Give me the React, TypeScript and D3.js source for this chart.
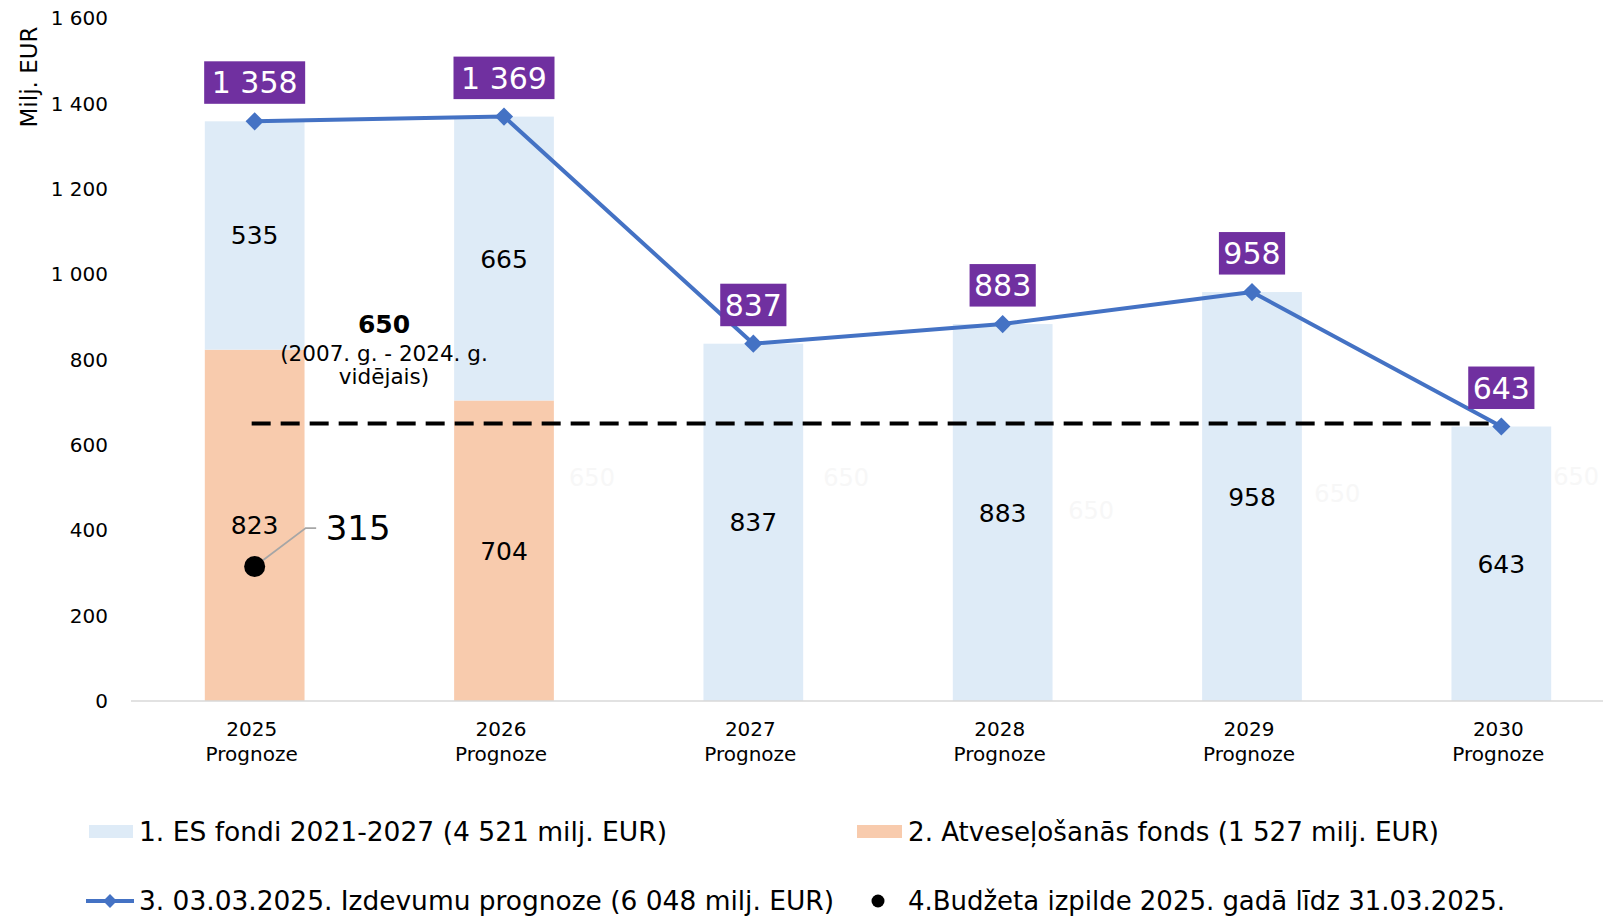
import React from "react";
import * as d3 from "d3";

const years = ["2025", "2026", "2027", "2028", "2029", "2030"];
const catSub = "Prognoze";
const esFondi = [535, 665, 837, 883, 958, 643];
const atvesel = [823, 704, 0, 0, 0, 0];
const prognoze = [1358, 1369, 837, 883, 958, 643];
const esLabels = ["535", "665", "837", "883", "958", "643"];
const atvLabels = ["823", "704", "", "", "", ""];
const progLabels = ["1 358", "1 369", "837", "883", "958", "643"];
const avgValue = 650;
const budzetaValue = 315;
const yTicks = [0, 200, 400, 600, 800, 1000, 1200, 1400, 1600];
const tickLabels = ["0", "200", "400", "600", "800", "1 000", "1 200", "1 400", "1 600"];
const legendItems = [
  "1. ES fondi 2021-2027 (4 521 milj. EUR)",
  "2. Atveseļošanās fonds (1 527 milj. EUR)",
  "3. 03.03.2025. Izdevumu prognoze (6 048 milj. EUR)",
  "4.Budžeta izpilde 2025. gadā līdz 31.03.2025.",
];
// faint (almost white) data labels of the 650 reference line
const ghostX = [2.353, 3.372, 4.355, 5.342, 6.3];
const ghostV = [525, 525, 447, 487, 527];

const W = 1603;
const H = 916;
const FONT = "'DejaVu Sans', Verdana, sans-serif";
const FONT_C = "'DejaVu Sans Condensed', 'DejaVu Sans', sans-serif";

const BLUE_BAR = "#DEEBF7";
const ORANGE_BAR = "#F8CBAD";
const LINE = "#4472C4";
const PURPLE = "#7030A0";

export default function App() {
  React.useEffect(() => {
    document.body.style.margin = "0";
  }, []);

  const x = d3
    .scaleBand<string>()
    .domain(years)
    .range([130, 1626])
    .paddingInner(0.6)
    .paddingOuter(0.3);
  const y = d3.scaleLinear().domain([0, 1600]).range([701, 18]);
  const cx = (i: number) => (x(years[i]) as number) + x.bandwidth() / 2;
  const step = x.step();
  const xFrac = (f: number) => cx(0) + (f - 1) * step;

  const linePath = d3
    .line<number>()
    .x((_, i) => cx(i))
    .y((d) => y(d))(prognoze) as string;

  const diamond = d3.symbol().type(d3.symbolSquare).size(165)() as string;
  const diamondSmall = d3.symbol().type(d3.symbolSquare).size(95)() as string;

  const dotX = cx(0);
  const dotY = y(budzetaValue);

  return (
    <svg
      width={W}
      height={H}
      style={{ position: "absolute", left: 0, top: 0, background: "#fff" }}
      fontFamily={FONT}
    >
      <rect x={0} y={0} width={W} height={H} fill="#fff" />
      {/* y axis title */}
      <text
        transform={`translate(37,77) rotate(-90)`}
        textAnchor="middle"
        fontSize={23}
        fill="#000"
      >
        Milj. EUR
      </text>
      {/* y tick labels */}
      {yTicks.map((t, i) => (
        <text
          key={t}
          x={108}
          y={y(t)}
          dy="0.36em"
          textAnchor="end"
          fontSize={20}
          fill="#000"
        >
          {tickLabels[i]}
        </text>
      ))}
      {/* bars */}
      {years.map((yr, i) => {
        const bx = x(yr) as number;
        const bw = x.bandwidth();
        return (
          <g key={yr}>
            {atvesel[i] > 0 && (
              <rect
                x={bx}
                y={y(atvesel[i])}
                width={bw}
                height={y(0) - y(atvesel[i])}
                fill={ORANGE_BAR}
              />
            )}
            <rect
              x={bx}
              y={y(atvesel[i] + esFondi[i])}
              width={bw}
              height={y(atvesel[i]) - y(atvesel[i] + esFondi[i])}
              fill={BLUE_BAR}
            />
          </g>
        );
      })}
      {/* x axis line */}
      <line x1={131} x2={W} y1={y(0)} y2={y(0)} stroke="#d9d9d9" strokeWidth={1.5} />
      {/* category labels */}
      {years.map((yr, i) => (
        <g key={yr} fontSize={20} fill="#000" textAnchor="middle">
          <text x={cx(i) - 3} y={736}>
            {yr}
          </text>
          <text x={cx(i) - 3} y={761}>
            {catSub}
          </text>
        </g>
      ))}
      {/* ghost labels */}
      {ghostX.map((f, i) => (
        <text
          key={i}
          x={xFrac(f)}
          y={y(ghostV[i])}
          dy="0.36em"
          textAnchor="middle"
          fontSize={24}
          fill="#f7f7f7"
        >
          {String(avgValue)}
        </text>
      ))}
      {/* bar labels */}
      {years.map((yr, i) => (
        <g key={yr} fontSize={25} fill="#000" textAnchor="middle">
          <text x={cx(i)} y={y(atvesel[i] + esFondi[i] / 2)} dy="0.36em">
            {esLabels[i]}
          </text>
          {atvesel[i] > 0 && (
            <text x={cx(i)} y={y(atvesel[i] / 2)} dy="0.36em">
              {atvLabels[i]}
            </text>
          )}
        </g>
      ))}
      {/* average dashed line */}
      <line
        x1={cx(0) - 3}
        x2={cx(5)}
        y1={y(avgValue)}
        y2={y(avgValue)}
        stroke="#000"
        strokeWidth={4}
        strokeDasharray="19 10"
      />
      {/* average annotation */}
      <g textAnchor="middle" fill="#000">
        <text x={384} y={333} fontSize={25} fontWeight="bold">
          {String(avgValue)}
        </text>
        <text x={384} y={361} fontSize={21.5}>
          (2007. g. - 2024. g.
        </text>
        <text x={384} y={384} fontSize={21.5}>
          vidējais)
        </text>
      </g>
      {/* forecast line */}
      <path d={linePath} fill="none" stroke={LINE} strokeWidth={4} strokeLinejoin="round" />
      {prognoze.map((v, i) => (
        <path
          key={i}
          d={diamond}
          transform={`translate(${cx(i)},${y(v)}) rotate(45)`}
          fill={LINE}
        />
      ))}
      {/* purple labels */}
      {prognoze.map((v, i) => {
        const lbl = progLabels[i];
        const tw = lbl.length * 0.58 * 30;
        const bw = tw + 14;
        const bottom = y(v) - 17.5;
        const bh = 42.5;
        return (
          <g key={i}>
            <rect x={cx(i) - bw / 2} y={bottom - bh} width={bw} height={bh} fill={PURPLE} />
            <text
              x={cx(i)}
              y={bottom - bh / 2}
              dy="0.36em"
              textAnchor="middle"
              fontSize={30}
              fill="#fff"
            >
              {lbl}
            </text>
          </g>
        );
      })}
      {/* budget execution point */}
      <polyline
        points={`${dotX},${dotY} ${dotX + 51},${dotY - 38.5} ${dotX + 61.5},${dotY - 38.5}`}
        fill="none"
        stroke="#a6a6a6"
        strokeWidth={1.8}
      />
      <circle cx={dotX} cy={dotY} r={10.5} fill="#000" />
      <text x={dotX + 71} y={540} fontSize={34} fill="#000">
        {String(budzetaValue)}
      </text>
      {/* legend */}
      <g fontFamily={FONT_C} fontSize={27} fill="#000">
        <rect x={89} y={825} width={44} height={13} fill={BLUE_BAR} />
        <text x={139} y={840.5} textLength={528} lengthAdjust="spacingAndGlyphs">
          {legendItems[0]}
        </text>
        <rect x={857} y={825} width={45} height={13} fill={ORANGE_BAR} />
        <text x={908} y={840.5} textLength={531} lengthAdjust="spacingAndGlyphs">
          {legendItems[1]}
        </text>
        <line x1={86} x2={134} y1={901} y2={901} stroke={LINE} strokeWidth={4} />
        <path d={diamondSmall} transform={`translate(110,901) rotate(45)`} fill={LINE} />
        <text x={139} y={910} textLength={695} lengthAdjust="spacingAndGlyphs">
          {legendItems[2]}
        </text>
        <circle cx={878} cy={901} r={6.5} fill="#000" />
        <text x={908} y={910} textLength={597} lengthAdjust="spacingAndGlyphs">
          {legendItems[3]}
        </text>
      </g>
    </svg>
  );
}
